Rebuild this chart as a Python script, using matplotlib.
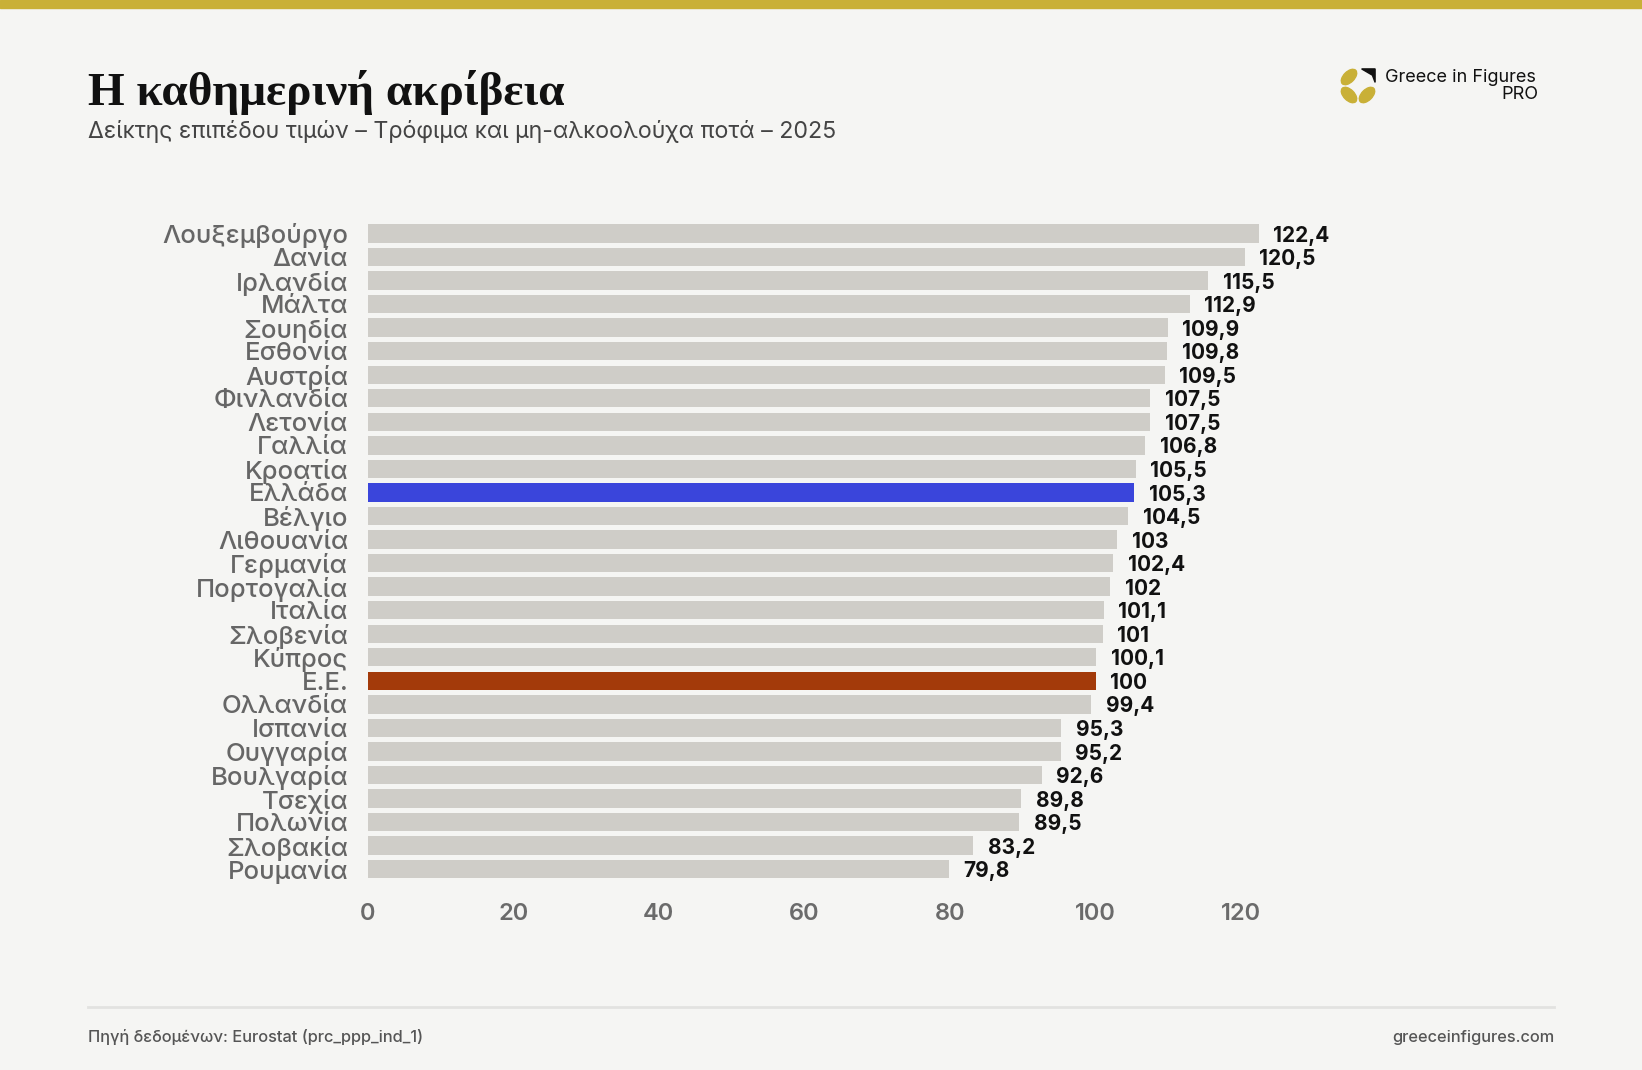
import matplotlib.pyplot as plt
from matplotlib.patches import Ellipse, Polygon, Rectangle
from matplotlib.lines import Line2D

countries = ["Λουξεμβούργο", "Δανία", "Ιρλανδία", "Μάλτα", "Σουηδία", "Εσθονία",
             "Αυστρία", "Φινλανδία", "Λετονία", "Γαλλία", "Κροατία", "Ελλάδα",
             "Βέλγιο", "Λιθουανία", "Γερμανία", "Πορτογαλία", "Ιταλία", "Σλοβενία",
             "Κύπρος", "Ε.Ε.", "Ολλανδία", "Ισπανία", "Ουγγαρία", "Βουλγαρία",
             "Τσεχία", "Πολωνία", "Σλοβακία", "Ρουμανία"]
values = [122.4, 120.5, 115.5, 112.9, 109.9, 109.8, 109.5, 107.5, 107.5, 106.8,
          105.5, 105.3, 104.5, 103, 102.4, 102, 101.1, 101, 100.1, 100, 99.4,
          95.3, 95.2, 92.6, 89.8, 89.5, 83.2, 79.8]
xticks = [0, 20, 40, 60, 80, 100, 120]

# χρώματα
BG = "#F5F5F3"
GOLD = "#C9B037"
BAR = "#CFCDC8"
highlight = {"Ελλάδα": "#3A45DB", "Ε.Ε.": "#A33A0A"}
SANS = ["Inter", "DejaVu Sans"]

W, H = 1642, 1070
fig = plt.figure(figsize=(W / 100, H / 100), dpi=100, facecolor=BG)

# πάνω χρυσή λωρίδα
fig.patches.append(Rectangle((0, 1 - 8 / H), 1, 8 / H, transform=fig.transFigure,
                             color=GOLD, zorder=5))

fig.text(88 / W, 1 - 105 / H, "Η καθημερινή ακρίβεια", family="Liberation Serif",
         weight="bold", fontsize=34, color="#111111", va="baseline")
fig.text(88 / W, 1 - 138 / H, "Δείκτης επιπέδου τιμών – Τρόφιμα και μη-αλκοολούχα ποτά – 2025",
         family=SANS, fontsize=16.7, color="#444444", va="baseline")

# λογότυπο
lax = fig.add_axes([1340 / W, 1 - 104 / H, 36 / W, 36 / H])
lax.set_xlim(-1, 1)
lax.set_ylim(-1, 1)
lax.set_aspect("equal")
lax.axis("off")
for cx, cy, ang in [(-0.5, 0.5, 45), (-0.5, -0.5, -45), (0.5, -0.5, 45)]:
    lax.add_patch(Ellipse((cx, cy), 1.05, 0.6, angle=ang, color=GOLD))
lax.add_patch(Polygon([(0.2, 0.95), (0.95, 0.95), (0.95, 0.2), (0.8, 0.6)],
                      color="#111111"))
fig.text(1385 / W, 1 - 82 / H, "Greece in Figures", family=SANS, fontsize=13,
         color="#111111", va="baseline")
fig.text(1538 / W, 1 - 99 / H, "PRO", family=SANS, fontsize=13,
         color="#111111", va="baseline", ha="right")

# κύριο διάγραμμα
ax = fig.add_axes([367.6 / W, 1 - 881 / H, 910 / W, (881 - 221.7) / H])
ax.set_facecolor(BG)
ypos = list(range(len(countries)))
colors = [highlight.get(c, BAR) for c in countries]
ax.barh(ypos, values, height=0.78, color=colors)
for y, v in zip(ypos, values):
    txt = f"{v:g}".replace(".", ",")
    ax.annotate(txt, (v, y), xytext=(10.5, -1.5), textcoords="offset points",
                va="center", ha="left", family=SANS, weight="bold",
                fontsize=15, color="#111111")

ax.set_xlim(0, 125)
ax.set_ylim(len(countries) - 0.5, -0.5)
ax.set_yticks(ypos)
ax.set_yticklabels(countries, family=SANS, fontsize=18.5, color="#666666",
                   weight="medium")
ax.set_xticks(xticks)
ax.set_xticklabels([str(t) for t in xticks], family=SANS, fontsize=17,
                   color="#6B6B6B", weight="semibold")
ax.tick_params(axis="y", length=0, pad=14)
ax.tick_params(axis="x", length=0, pad=16)
for s in ax.spines.values():
    s.set_visible(False)

# υποσέλιδο
fig.add_artist(Line2D([88 / W, 1554 / W], [1 - 1007 / H, 1 - 1007 / H],
                      transform=fig.transFigure, color="#E2E2E0", lw=2))
fig.text(88 / W, 1 - 1042 / H, "Πηγή δεδομένων: Eurostat (prc_ppp_ind_1)",
         family=SANS, fontsize=11.8, color="#555555", va="baseline", weight="medium")
fig.text(1554 / W, 1 - 1042 / H, "greeceinfigures.com", family=SANS, fontsize=11.8,
         color="#555555", va="baseline", ha="right", weight="medium")

fig.savefig("out.png", dpi=100, facecolor=BG)
